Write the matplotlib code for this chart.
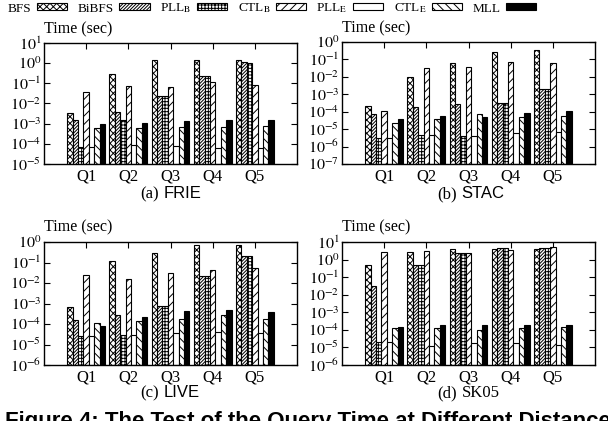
import matplotlib
matplotlib.use("Agg")
import matplotlib.pyplot as plt
from matplotlib.patches import Patch
import numpy as np

plt.rcParams["font.family"] = ["Liberation Serif", "DejaVu Serif"]
plt.rcParams["mathtext.fontset"] = "stix"
plt.rcParams["hatch.linewidth"] = 0.7

# ── data (seconds) ──────────────────────────────────────────────────────────
groups = ["Q1", "Q2", "Q3", "Q4", "Q5"]
series = ["BFS", "BiBFS", r"PLL$_\mathrm{B}$", r"CTL$_\mathrm{B}$",
          r"PLL$_\mathrm{E}$", r"CTL$_\mathrm{E}$", "MLL"]

# rows follow `series`, columns follow `groups`
frie_times = [
    [3.3e-3, 0.28, 1.4, 1.5, 1.5],
    [1.5e-3, 3.8e-3, 0.024, 0.24, 1.1],
    [7.0e-5, 1.6e-3, 0.024, 0.24, 1.0],
    [0.038, 0.075, 0.063, 0.11, 0.085],
    [7.2e-5, 8.8e-5, 7.8e-5, 6.5e-5, 6.5e-5],
    [6.3e-4, 6.3e-4, 7.0e-4, 7.0e-4, 7.5e-4],
    [1.0e-3, 1.05e-3, 1.4e-3, 1.6e-3, 1.5e-3],
]
stac_times = [
    [2.1e-4, 9.5e-3, 0.066, 0.25, 0.37],
    [7.4e-5, 1.8e-4, 2.8e-4, 3.1e-4, 2.1e-3],
    [3.3e-6, 4.5e-6, 4.1e-6, 3.1e-4, 2.1e-3],
    [1.1e-4, 0.034, 0.039, 0.069, 0.066],
    [3.3e-6, 4.5e-6, 4.0e-6, 5.8e-6, 6.8e-6],
    [2.3e-5, 4.0e-5, 7.2e-5, 4.8e-5, 5.5e-5],
    [3.7e-5, 6.0e-5, 5.1e-5, 8.9e-5, 1.15e-4],
]
live_times = [
    [6.4e-4, 0.125, 0.30, 0.73, 0.73],
    [1.6e-4, 2.7e-4, 7.5e-4, 0.021, 0.20],
    [2.5e-5, 2.8e-5, 7.5e-4, 0.021, 0.20],
    [0.024, 0.016, 0.030, 0.044, 0.053],
    [2.5e-5, 2.8e-5, 3.5e-5, 4.0e-5, 3.5e-5],
    [1.07e-4, 1.4e-4, 1.7e-4, 2.6e-4, 1.8e-4],
    [8.4e-5, 2.2e-4, 4.2e-4, 4.9e-4, 3.7e-4],
]
sk05_times = [
    [0.5, 2.7, 4.0, 4.0, 4.0],
    [0.032, 0.48, 2.5, 4.5, 4.7],
    [2.1e-5, 0.48, 2.5, 4.5, 4.7],
    [2.7, 3.2, 2.4, 3.3, 5.0],
    [2.1e-5, 1.15e-5, 1.7e-5, 1.7e-5, 1.3e-5],
    [1.3e-4, 1.2e-4, 1.0e-4, 1.2e-4, 1.4e-4],
    [1.5e-4, 1.8e-4, 1.8e-4, 1.8e-4, 1.8e-4],
]

# (face, hatch) per series, gnuplot-like fills
STYLES = [
    ("white", "xxxxx"),
    ("white", "//////////"),
    ("white", "+++++"),
    ("white", "////"),
    ("white", ""),
    ("white", "\\\\\\\\"),
    ("black", ""),
]

W, H = 608, 421
fig = plt.figure(figsize=(W / 100, H / 100), dpi=100)
renderer = fig.canvas.get_renderer()


def px_axes(left, top, right, bottom):
    return fig.add_axes([left / W, 1 - bottom / H, (right - left) / W, (bottom - top) / H])


def draw_panel(ax, data, lo_exp, hi_exp, tag, name, name_sans, cap_y):
    lo = 10.0 ** lo_exp
    x = np.arange(1, len(groups) + 1)
    bw = 0.9 / len(series)
    for k, (vals, (fc, hatch)) in enumerate(zip(data, STYLES)):
        pos = x - 0.45 + bw * (k + 0.5)
        ax.bar(pos, np.array(vals) - lo, bw, bottom=lo, facecolor=fc,
               edgecolor="black", hatch=hatch, linewidth=0.8, zorder=2)
    ax.set_yscale("log")
    ax.set_ylim(lo, 10.0 ** hi_exp)
    ax.set_xlim(0, 6)
    ax.set_xticks(x)
    ax.set_xticklabels(groups, fontsize=12)
    exps = range(lo_exp, hi_exp + 1)
    ax.set_yticks([10.0 ** e for e in exps])
    ax.set_yticklabels([r"$10^{%d}$" % e for e in exps], fontsize=11.5)
    ax.minorticks_off()
    ax.tick_params(direction="in", length=4, width=0.8, top=True, right=True)
    ax.tick_params(axis="x", pad=3)
    ax.tick_params(axis="y", pad=2)
    for s in ax.spines.values():
        s.set_linewidth(1.0)
    ax.text(0.0, 1.115, "Time (sec)", transform=ax.transAxes, fontsize=11.5,
            ha="left", va="center")

    # sub-caption: serif tag + (mostly) sans dataset name
    bb = ax.get_position()
    cx = (bb.x0 + bb.x1) / 2 * W
    y = 1 - cap_y / H
    t1 = fig.text((cx - 12) / W, y, tag, fontsize=12, ha="right", va="baseline")
    ext = t1.get_window_extent(renderer)
    fam = "Liberation Sans" if name_sans else "Liberation Serif"
    fig.text((ext.x1 + 5) / W, y, name, fontsize=12, family=fam,
             ha="left", va="baseline")


ax_a = px_axes(44, 43, 297, 164)
ax_b = px_axes(342, 42, 595, 164)
ax_c = px_axes(44, 242, 297, 365)
ax_d = px_axes(342, 242, 595, 365)

draw_panel(ax_a, frie_times, -5, 1, "(a)", "FRIE", True, 198)
draw_panel(ax_b, stac_times, -7, 0, "(b)", "STAC", True, 198)
draw_panel(ax_c, live_times, -6, 0, "(c)", "LIVE", True, 397)
draw_panel(ax_d, sk05_times, -6, 1, "(d)", "SK05", False, 397)

handles = [Patch(facecolor=fc, edgecolor="black", hatch=h, linewidth=0.8)
           for fc, h in STYLES]
fig.legend(handles, series, loc="upper left", bbox_to_anchor=(8 / W, 1 - 1.5 / H),
           ncol=7, frameon=False, markerfirst=False, fontsize=9.5,
           handlelength=2.3, handleheight=0.45, handletextpad=0.4,
           columnspacing=0.8, borderaxespad=0.0, borderpad=0.0)

fig.text(0.008, -6 / H, "Figure 4: The Test of the Query Time at Different Distance Ranges",
         fontsize=16, fontweight="bold", family="Liberation Sans",
         ha="left", va="baseline")

fig.savefig("out.png", dpi=100)
